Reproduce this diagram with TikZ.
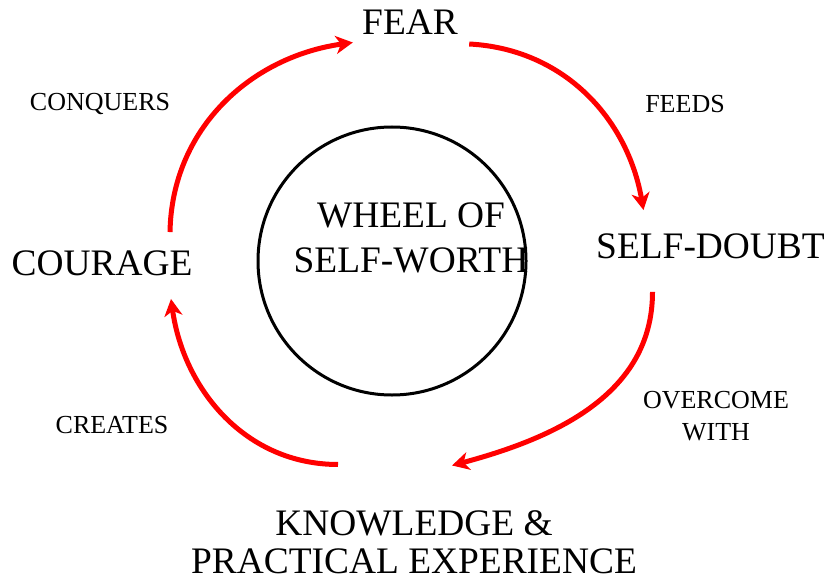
\documentclass[tikz,border=0pt]{standalone}
\usepackage{fontspec}
\setmainfont{Liberation Serif}
\usepackage{xcolor}
\usepackage{tikz}
\usetikzlibrary{calc}
\usetikzlibrary{arrows.meta}

\begin{document}
\begin{tikzpicture}[x=0.5pt,y=0.5pt,
		big/.style={inner sep=0pt,font=\fontsize{18.7}{19}\selectfont,align=center},
		small/.style={inner sep=0pt,font=\fontsize{13}{16}\selectfont,align=center},
		cycle/.style={red,line width=2.5pt,-{Stealth[length=8.5pt,width=9pt,inset=2.5pt]}}]
		\useasboundingbox (0,0) rectangle (828,579);
		\node[draw,circle,line width=1.5pt,minimum size=134pt,inner sep=0pt] (wheel) at (392,318) {};
		\node[big,font=\fontsize{18.7}{22.5}\selectfont] (worth) at (411,341) {WHEEL OF\\SELF-WORTH};
		\node[big] (fear) at (410,556.5) {FEAR};
		\node[big] (doubt) at (710.5,333) {SELF-DOUBT};
		\node[big] (know) at (414,37) {KNOWLEDGE \&\\PRACTICAL EXPERIENCE};
		\node[big] (courage) at (102,316) {COURAGE};
		\node[small] (conquers) at (100,475) {CONQUERS};
		\node[small] (feeds) at (685,475) {FEEDS};
		\node[small] (overcome) at (716,162.5) {OVERCOME\\WITH};
		\node[small] (creates) at (112,154) {CREATES};
		\draw[cycle] ($(courage.north)+(68,18)$) to[out=89,in=188] ($(fear.west)+(-9,-20)$);
		\draw[cycle] ($(fear.east)+(11,-21.5)$) to[out=-3,in=100] ($(doubt.north)+(-67,23)$);
		\draw[cycle] ($(doubt.south)+(-58,-33)$) to[out=-90,in=15] ($(know.north)+(38,44.5)$);
		\draw[cycle] ($(know.north)+(-76,45.5)$) to[out=180,in=-82] ($(courage.south)+(69,-23)$);
	\end{tikzpicture}
\end{document}
